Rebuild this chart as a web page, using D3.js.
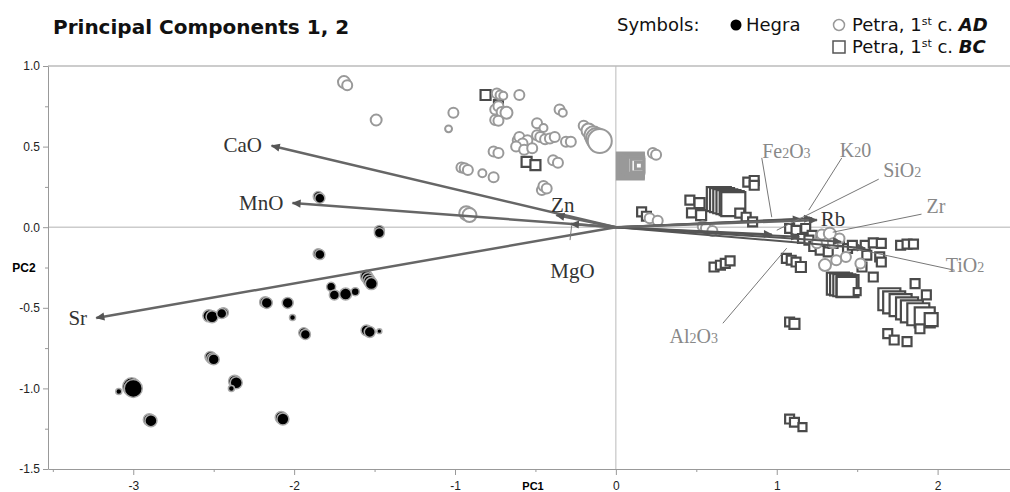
<!DOCTYPE html>
<html>
<head>
<meta charset="utf-8">
<script src="https://cdn.jsdelivr.net/npm/d3@7"></script>
<style>
  body { margin: 0; background: #fff; }
  .axis text { font-family: "Liberation Sans", Arial, sans-serif; font-size: 12px; fill: #222; }
  .axis path, .axis line { stroke: #999; }
</style>
</head>
<body>
<div id="chart"></div>
<script>
// PC1, PC2, size value
var hegra = [
  [-1.85,0.19,25],[-1.84,0.18,25],
  [-1.47,-0.02,25],[-1.47,-0.035,25],
  [-1.85,-0.165,25],[-1.84,-0.17,25],
  [-1.55,-0.305,36],[-1.54,-0.32,36],[-1.53,-0.335,36],[-1.52,-0.35,36],
  [-1.77,-0.37,20],[-1.75,-0.42,25],
  [-1.68,-0.415,36],[-1.62,-0.40,16],
  [-2.18,-0.465,30],[-2.17,-0.47,30],
  [-2.04,-0.47,30],[-2.01,-0.56,9],
  [-2.53,-0.55,36],[-2.51,-0.555,36],
  [-2.44,-0.53,25],[-2.45,-0.535,25],
  [-1.94,-0.655,25],[-1.93,-0.665,25],
  [-1.55,-0.64,30],[-1.53,-0.65,30],
  [-1.47,-0.645,6],
  [-2.52,-0.805,30],[-2.51,-0.815,30],[-2.50,-0.82,30],
  [-2.37,-0.955,36],[-2.36,-0.965,36],
  [-2.39,-1.0,9],
  [-3.01,-0.99,81],[-3.0,-1.0,81],
  [-3.09,-1.02,9],
  [-2.90,-1.195,36],[-2.89,-1.2,36],
  [-2.08,-1.18,36],[-2.07,-1.19,36]
];

var petraAD = [
  [-1.69,0.90,36],[-1.67,0.88,25],
  [-1.49,0.665,30],
  [-1.01,0.71,25],
  [-1.04,0.61,12],
  [-0.96,0.37,25],[-0.94,0.365,25],[-0.92,0.355,25],
  [-0.83,0.335,16],[-0.76,0.31,25],
  [-0.93,0.087,49],[-0.91,0.075,49],
  [-0.76,0.47,25],[-0.73,0.46,25],
  [-0.74,0.83,25],[-0.72,0.82,20],[-0.70,0.815,16],
  [-0.60,0.82,25],
  [-0.75,0.73,25],[-0.73,0.75,25],[-0.71,0.715,25],[-0.68,0.71,36],
  [-0.75,0.665,25],[-0.73,0.66,25],
  [-0.35,0.73,25],[-0.33,0.71,16],
  [-0.49,0.645,25],[-0.45,0.615,16],
  [-0.61,0.54,25],[-0.60,0.56,25],[-0.55,0.54,25],[-0.58,0.52,25],[-0.62,0.50,25],[-0.57,0.48,25],[-0.52,0.49,25],
  [-0.49,0.57,25],[-0.47,0.56,25],[-0.44,0.545,25],[-0.41,0.55,25],
  [-0.38,0.56,25],[-0.31,0.53,25],[-0.28,0.53,25],
  [-0.20,0.63,25],[-0.17,0.60,49],[-0.14,0.57,81],[-0.12,0.55,110],[-0.10,0.535,144],
  [-0.39,0.415,25],[-0.36,0.40,25],
  [-0.46,0.23,25],[-0.45,0.255,25],[-0.43,0.24,25],
  [0.23,0.46,25],[0.25,0.45,25],
  [0.21,0.056,25],[0.26,0.04,25],
  [0.54,0.006,25],[0.56,-0.006,25],[0.60,-0.023,25],
  [1.28,-0.045,25],[1.33,-0.04,36],
  [1.39,-0.07,25],[1.25,-0.10,25],[1.35,-0.10,25],[1.43,-0.185,25],
  [1.30,-0.235,36],[1.37,-0.205,25],[1.52,-0.225,25]
];

// squares drawn in the AD grey (stacked group near the origin)
var petraADsquares = [
  [0.090,0.379,169],[0.096,0.381,144],[0.102,0.383,121],[0.109,0.385,100],
  [0.116,0.385,81],[0.124,0.385,64],[0.134,0.382,42],[0.143,0.382,12]
];

var petraBC = [
  [-0.81,0.82,25],[-0.73,0.76,20],
  [-0.555,0.405,25],[-0.50,0.385,25],
  [0.82,0.28,20],[0.86,0.29,20],[0.86,0.26,20],
  [0.64,0.174,144],[0.66,0.168,144],[0.68,0.161,144],[0.70,0.155,144],[0.72,0.149,144],[0.73,0.143,144],
  [0.46,0.168,20],[0.52,0.149,25],[0.47,0.089,20],[0.53,0.075,25],
  [0.77,0.087,20],[0.81,0.062,20],[0.85,0.033,20],
  [0.16,0.095,20],[0.19,0.068,20],
  [0.61,-0.247,20],[0.65,-0.236,20],[0.68,-0.224,20],[0.71,-0.209,20],
  [1.06,-0.193,20],[1.09,-0.205,20],[1.12,-0.216,20],[1.15,-0.247,25],
  [1.08,-0.008,20],[1.12,-0.019,20],[1.18,-0.008,20],[1.22,-0.05,20],
  [1.16,-0.07,20],[1.20,-0.08,20],[1.23,-0.12,20],[1.27,-0.143,20],
  [1.32,-0.153,20],[1.35,-0.10,20],[1.39,-0.09,20],[1.44,-0.132,20],
  [1.47,-0.112,20],[1.55,-0.112,20],[1.60,-0.097,20],[1.65,-0.10,20],
  [1.77,-0.112,20],[1.81,-0.105,20],[1.85,-0.105,20],
  [1.56,-0.174,20],[1.64,-0.184,20],[1.65,-0.216,20],[1.53,-0.247,20],
  [1.60,-0.309,20],[1.86,-0.35,20],[1.93,-0.42,20],
  [1.38,-0.35,121],[1.40,-0.355,121],[1.42,-0.36,121],[1.44,-0.365,121],[1.435,-0.37,100],[1.50,-0.40,12],
  [1.70,-0.447,121],[1.73,-0.466,121],[1.77,-0.484,121],[1.81,-0.503,121],
  [1.84,-0.522,121],[1.88,-0.54,121],[1.92,-0.56,100],[1.96,-0.573,42],[1.89,-0.63,20],
  [1.69,-0.66,20],[1.73,-0.70,20],[1.81,-0.71,20],
  [1.08,-0.588,20],[1.11,-0.60,25],
  [1.08,-1.19,20],[1.11,-1.21,20],[1.16,-1.24,16]
];

// loadings: name, tip x, tip y, label x, label y
var loadingsDark = [
  ["CaO", -2.14, 0.505, -2.32, 0.466],
  ["MnO", -2.01, 0.15, -2.205, 0.106],
  ["Sr", -3.23, -0.563, -3.345, -0.609],
  ["Zn", -0.37, 0.075, -0.33, 0.093],
  ["MgO", -0.28, 0.02, -0.27, -0.317],
  ["Rb", 1.25, 0.045, 1.35, 0.006]
];
// grey loadings: label parts, tip x, tip y, label x, label y, leader from x,y to x,y
var loadingsGrey = [
  ["Fe", "2", "O", "3", 1.15, 0.05, 1.06, 0.43, 0.907, 0.43, 0.969, 0.062],
  ["K", "2", "0", "", 1.22, 0.055, 1.49, 0.435, 1.404, 0.429, 1.199, 0.106],
  ["SiO", "2", "", "", 0.97, -0.045, 1.78, 0.31, 1.634, 0.298, 1.0, -0.019],
  ["Zr", "", "", "", 1.40, -0.09, 1.99, 0.087, 1.90, 0.081, 1.348, -0.031],
  ["TiO", "2", "", "", 1.55, -0.13, 2.17, -0.28, 2.106, -0.267, 1.472, -0.13],
  ["Al", "2", "O", "3", 1.14, -0.06, 0.484, -0.72, 0.665, -0.596, 1.062, -0.13]
];

var xTicks = [-3, -2, -1, 0, 1, 2];
var xMinor = [-3.5, -2.5, -1.5, -0.5, 0.5, 1.5];
var yTicks = [-1.5, -1.0, -0.5, 0.0, 0.5, 1.0];
var yMinor = [-1.25, -0.75, -0.25, 0.25, 0.75];

var W = 1010, H = 492;
var svg = d3.select("#chart").append("svg")
  .attr("width", W).attr("height", H);

var x = d3.scaleLinear().domain([-3.53, 2.45]).range([48, 1010]);
var y = d3.scaleLinear().domain([-1.5, 1.0]).range([469, 66]);
var r = d3.scaleSqrt().domain([0, 100]).range([0, 10]);

// frame / zero lines
svg.append("line").attr("x1", 48).attr("x2", W).attr("y1", y(1)).attr("y2", y(1))
  .attr("stroke", "#bbb").attr("stroke-width", 1.5);
svg.append("line").attr("x1", 48).attr("x2", W).attr("y1", y(0)).attr("y2", y(0))
  .attr("stroke", "#ccc").attr("stroke-width", 1.5);
svg.append("line").attr("x1", x(0)).attr("x2", x(0)).attr("y1", y(1)).attr("y2", y(-1.5))
  .attr("stroke", "#bbb").attr("stroke-width", 1);

// axes
svg.append("g").attr("class", "axis")
  .attr("transform", "translate(0," + y(-1.5) + ")")
  .call(d3.axisBottom(x).tickValues(xTicks).tickFormat(function(d) { return d; })
    .tickSize(6).tickSizeOuter(0).tickPadding(6));
svg.append("g").attr("class", "axis")
  .attr("transform", "translate(0," + y(-1.5) + ")")
  .call(d3.axisBottom(x).tickValues(xMinor).tickFormat("").tickSize(3).tickSizeOuter(0))
  .select(".domain").remove();
svg.append("g").attr("class", "axis")
  .attr("transform", "translate(" + x(-3.53) + ",0)")
  .call(d3.axisLeft(y).tickValues(yTicks).tickFormat(function(d) { return d.toFixed(1); })
    .tickSize(5).tickSizeOuter(0).tickPadding(3));
svg.append("g").attr("class", "axis")
  .attr("transform", "translate(" + x(-3.53) + ",0)")
  .call(d3.axisLeft(y).tickValues(yMinor).tickFormat("").tickSize(3).tickSizeOuter(0))
  .select(".domain").remove();

svg.append("text").attr("x", 533).attr("y", 490).attr("text-anchor", "middle")
  .style("font-family", "'Liberation Sans', Arial, sans-serif").style("font-size", "11px")
  .style("font-weight", "bold").text("PC1");
svg.append("text").attr("x", 24).attr("y", 272).attr("text-anchor", "middle")
  .style("font-family", "'Liberation Sans', Arial, sans-serif").style("font-size", "12px")
  .style("font-weight", "bold").text("PC2");

// points
var sq = function(d) {
  var s = r(d[2]) * 2;
  return "M" + (x(d[0]) - s / 2) + "," + (y(d[1]) - s / 2) + "h" + s + "v" + s + "h" + (-s) + "Z";
};
svg.append("g").selectAll("path").data(petraADsquares).enter().append("path")
  .attr("d", sq).attr("fill", "#fff").attr("stroke", "#999").attr("stroke-width", 3);
svg.append("g").selectAll("path").data(petraBC).enter().append("path")
  .attr("d", sq).attr("fill", "#fff").attr("stroke", "#4a4a4a").attr("stroke-width", 2.2);
svg.append("g").selectAll("circle").data(petraAD).enter().append("circle")
  .attr("cx", function(d) { return x(d[0]); })
  .attr("cy", function(d) { return y(d[1]); })
  .attr("r", function(d) { return r(d[2]); })
  .attr("fill", "#fff").attr("stroke", "#999").attr("stroke-width", 2);
svg.append("g").selectAll("circle").data(hegra).enter().append("circle")
  .attr("cx", function(d) { return x(d[0]); })
  .attr("cy", function(d) { return y(d[1]); })
  .attr("r", function(d) { return r(d[2]); })
  .attr("fill", "#000").attr("stroke", "#aaa").attr("stroke-width", 1.5);

// arrowheads
var defs = svg.append("defs");
defs.append("marker").attr("id", "head").attr("viewBox", "0 -5 10 10")
  .attr("refX", 9).attr("refY", 0).attr("markerUnits", "userSpaceOnUse")
  .attr("markerWidth", 11).attr("markerHeight", 9).attr("orient", "auto")
  .append("path").attr("d", "M0,-4.5L10,0L0,4.5Z").attr("fill", "#555");

var arrows = svg.append("g");
arrows.selectAll("line.g").data(loadingsGrey).enter().append("line")
  .attr("x1", x(0)).attr("y1", y(0))
  .attr("x2", function(d) { return x(d[4]); }).attr("y2", function(d) { return y(d[5]); })
  .attr("stroke", "#555").attr("stroke-width", 2).attr("marker-end", "url(#head)");
arrows.selectAll("line.d").data(loadingsDark).enter().append("line")
  .attr("x1", x(0)).attr("y1", y(0))
  .attr("x2", function(d) { return x(d[1]); }).attr("y2", function(d) { return y(d[2]); })
  .attr("stroke", "#666").attr("stroke-width", 2.5).attr("marker-end", "url(#head)");

// leader lines for grey labels
arrows.selectAll("line.leader").data(loadingsGrey).enter().append("line")
  .attr("x1", function(d) { return x(d[8]); }).attr("y1", function(d) { return y(d[9]); })
  .attr("x2", function(d) { return x(d[10]); }).attr("y2", function(d) { return y(d[11]); })
  .attr("stroke", "#777").attr("stroke-width", 1);
// MgO leader
arrows.append("line")
  .attr("x1", x(-0.275)).attr("y1", y(0.01)).attr("x2", x(-0.285)).attr("y2", y(-0.08))
  .attr("stroke", "#777").attr("stroke-width", 1);

var serif = "'Liberation Serif', 'Times New Roman', serif";
svg.append("g").selectAll("text").data(loadingsDark).enter().append("text")
  .attr("x", function(d) { return x(d[3]); }).attr("y", function(d) { return y(d[4]); })
  .attr("text-anchor", "middle").style("font-family", serif).style("font-size", "21px")
  .attr("fill", "#333").text(function(d) { return d[0]; });

var gl = svg.append("g").selectAll("text").data(loadingsGrey).enter().append("text")
  .attr("x", function(d) { return x(d[6]); }).attr("y", function(d) { return y(d[7]); })
  .attr("text-anchor", "middle").style("font-family", serif).style("font-size", "20px")
  .attr("fill", "#888");
gl.each(function(d) {
  var t = d3.select(this);
  t.append("tspan").text(d[0]);
  if (d[1]) t.append("tspan").style("font-size", "14px").text(d[1]);
  if (d[2]) t.append("tspan").text(d[2]);
  if (d[3]) t.append("tspan").style("font-size", "14px").text(d[3]);
});

// title and legend
var sans = "'DejaVu Sans', Verdana, sans-serif";
svg.append("text").attr("x", 53).attr("y", 34)
  .style("font-family", sans).style("font-size", "20px").style("font-weight", "bold")
  .attr("fill", "#111").text("Principal Components 1, 2");

var lg = svg.append("g").style("font-family", sans).style("font-size", "18px").attr("fill", "#111");
lg.append("text").attr("x", 617).attr("y", 31).text("Symbols:");
lg.append("circle").attr("cx", 736).attr("cy", 25).attr("r", 5.5).attr("fill", "#000");
lg.append("text").attr("x", 746).attr("y", 31).text("Hegra");
lg.append("circle").attr("cx", 839).attr("cy", 25).attr("r", 5.5).attr("fill", "none")
  .attr("stroke", "#999").attr("stroke-width", 1.5);
lg.append("rect").attr("x", 833).attr("y", 41).attr("width", 12).attr("height", 12)
  .attr("fill", "none").attr("stroke", "#555").attr("stroke-width", 1.5);

var leg = [["AD", 31], ["BC", 53]];
leg.forEach(function(l) {
  var t = lg.append("text").attr("x", 852).attr("y", l[1]);
  t.append("tspan").text("Petra, 1");
  t.append("tspan").attr("dy", -6).style("font-size", "11px").text("st");
  t.append("tspan").attr("dy", 6).text(" c. ");
  t.append("tspan").style("font-weight", "bold").style("font-style", "italic").text(l[0]);
});
</script>
</body>
</html>
